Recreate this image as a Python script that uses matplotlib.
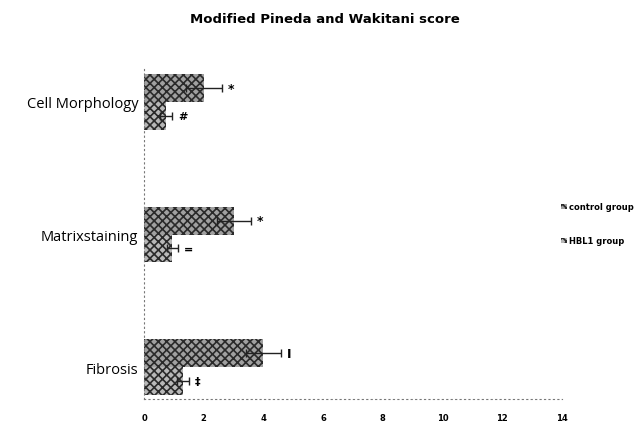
import matplotlib.pyplot as plt
import numpy as np

categories = ["Fibrosis", "Matrixstaining", "Cell Morphology"]
control = [4.0, 3.0, 2.0]
control_err = [0.6, 0.57, 0.6]
hbl = [1.3, 0.95, 0.75]
hbl_err = [0.2, 0.18, 0.2]
control_marks = ["I", "*", "*"]
hbl_marks = ["\u2021", "=", "#"]
xticks = [0, 2, 4, 6, 8, 10, 12, 14]

plt.rcParams['hatch.linewidth'] = 1.2
plt.rcParams['hatch.color'] = '#2a2a2a'

fig = plt.figure(figsize=(6.43, 4.31), dpi=100)
ax = fig.add_axes([0.224, 0.072, 0.65, 0.766])

y = np.arange(len(categories))
h = 0.21
ax.barh(y + h / 2, control, height=h, color='#a0a0a0', hatch='xxxx', linewidth=0,
        label='control group')
ax.barh(y - h / 2, hbl, height=h, color='#b8b8b8', hatch='xxxx', linewidth=0,
        label='HBL1 group')
ax.errorbar(control, y + h / 2, xerr=control_err, fmt='none', ecolor='#222222',
            elinewidth=1, capsize=3)
ax.errorbar(hbl, y - h / 2, xerr=hbl_err, fmt='none', ecolor='#222222',
            elinewidth=1, capsize=3)
for i in range(len(categories)):
    ax.text(control[i] + control_err[i] + 0.2, y[i] + h / 2, control_marks[i],
            va='center', ha='left', fontsize=9, fontweight='bold')
    ax.text(hbl[i] + hbl_err[i] + 0.2, y[i] - h / 2, hbl_marks[i],
            va='center', ha='left', fontsize=8, fontweight='bold')

ax.set_xlim(0, 14)
ax.set_ylim(-0.24, 2.25)
ax.set_yticks(y)
ax.set_yticklabels(categories, fontsize=10.5, family='Open Sans')
ax.set_xticks(xticks)
ax.set_xticklabels([str(t) for t in xticks], fontsize=6, fontweight='bold')
ax.tick_params(length=0, pad=10)
ax.tick_params(axis='y', pad=4)
for s in ['top', 'right']:
    ax.spines[s].set_visible(False)
for s in ['left', 'bottom']:
    ax.spines[s].set_linestyle((0, (1, 3)))
    ax.spines[s].set_color('#777777')

fig.text(0.505, 0.955, "Modified Pineda and Wakitani score", ha='center',
         va='center', fontsize=9.5, fontweight='bold')
ax.legend(loc='center left', bbox_to_anchor=(0.98, 0.53), frameon=False,
          prop={'size': 6, 'weight': 'bold'}, handlelength=0.7,
          handleheight=0.7, handletextpad=0.3, labelspacing=3.0)

fig.savefig('out.png', dpi=100)
